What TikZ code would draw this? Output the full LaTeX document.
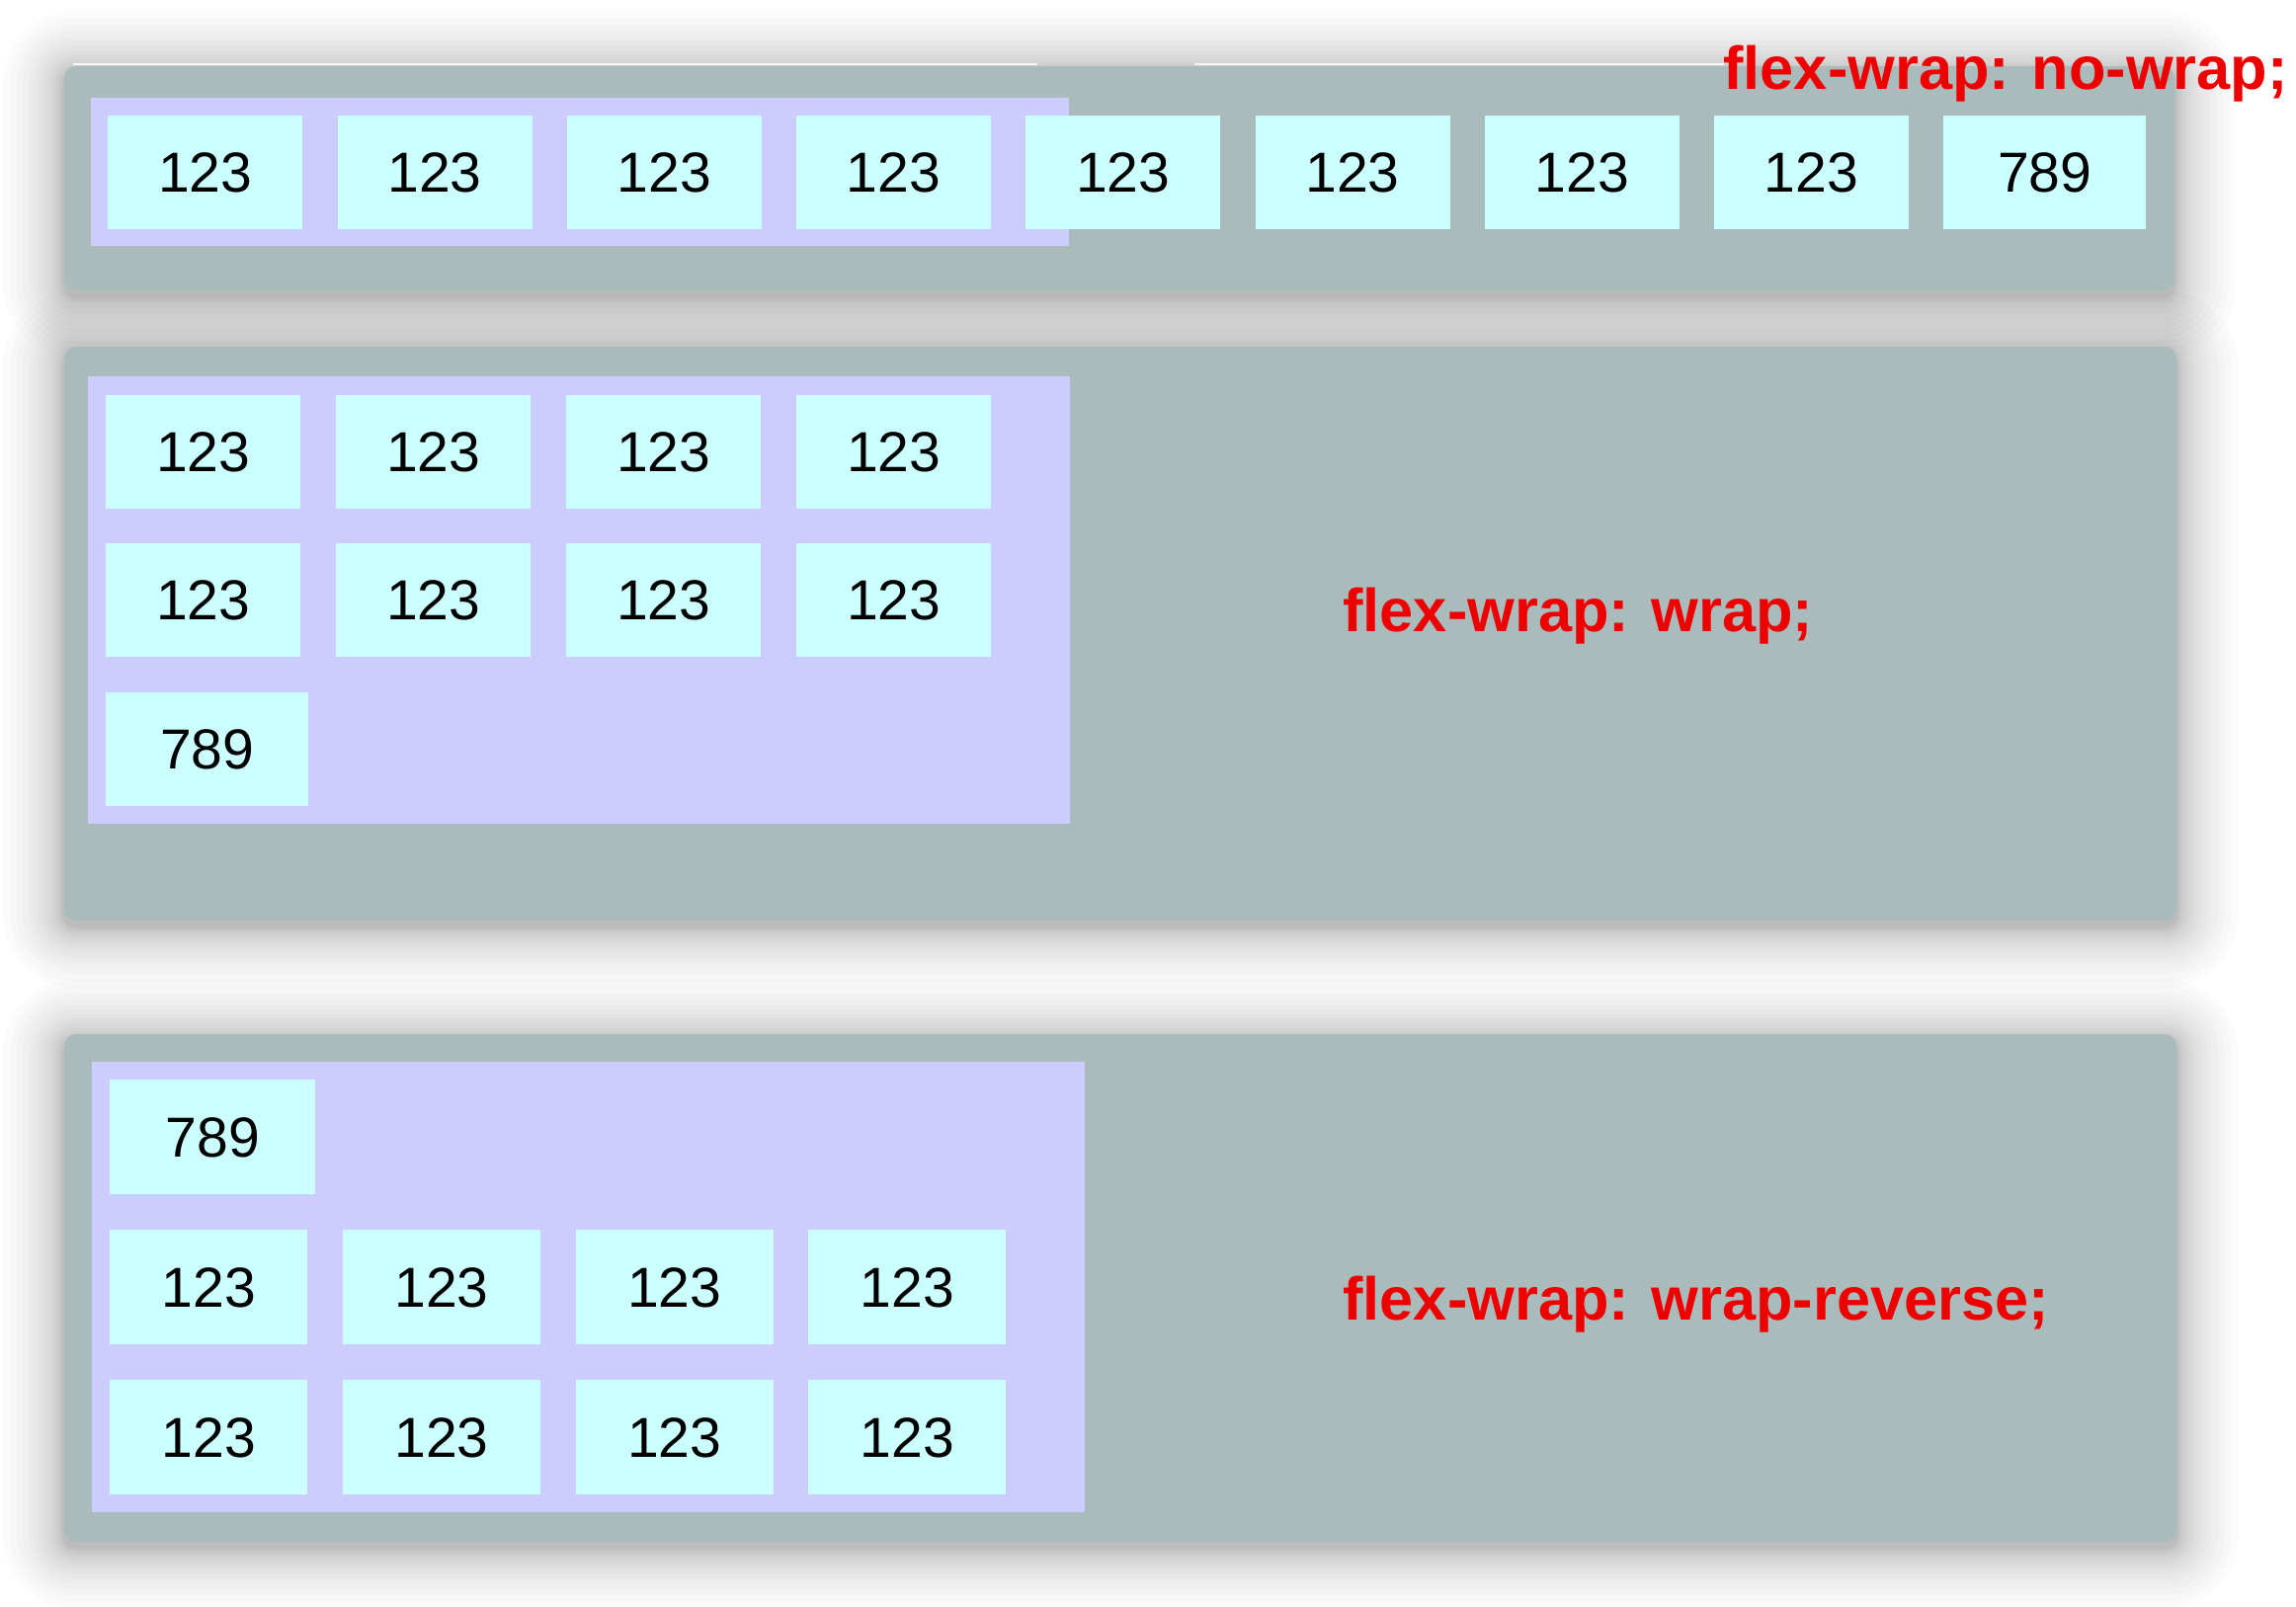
\documentclass[tikz,border=0pt]{standalone}
\usepackage{fontspec}
\setmainfont{Liberation Sans}
\usetikzlibrary{positioning}
\definecolor{panelgray}{HTML}{AABBBB}
\definecolor{boxlilac}{HTML}{CCCCFF}
\definecolor{itemcyan}{HTML}{CCFFFF}
\definecolor{labelred}{HTML}{EE0000}

\begin{document}
\begin{tikzpicture}[x=.02cm,y=-.02cm,
  item/.style={fill=itemcyan,anchor=north west,inner sep=0pt,minimum width=3.94cm,
    minimum height=2.3cm,font=\fontsize{32.5pt}{36pt}\selectfont},
  wide/.style={minimum width=4.1cm},
  flexlabel/.style={anchor=base west,inner sep=0pt,text=labelred,
    font=\fontsize{34.9pt}{40pt}\selectfont\bfseries}]
 \useasboundingbox[fill=white] (0,0) rectangle (2324,1626);
 % panels with soft shadow
 \foreach \xa/\ya/\xb/\yb in {65/67/2201/294,65/351/2203/932,65/1047/2203/1561}{
  \foreach \d in {1,2,3,5,7,9,12,15,18,22,26,31,36,42,48,55,62}{
   \fill[black,opacity=.016,rounded corners={.24cm+\d*.02cm}]
     (\xa-\d,\ya-\d+6) rectangle (\xb+\d,\yb+\d+6);
  }
  \fill[panelgray,rounded corners=.24cm] (\xa,\ya) rectangle (\xb,\yb);
 }
 \fill[white!94!gray] (74,64) rectangle (1050,66);
 \fill[white!94!gray] (1209,64) rectangle (1745,66);
 \fill[boxlilac] (92,99) rectangle (1082,249);
 \fill[boxlilac] (89,381) rectangle (1083,834);
 \fill[boxlilac] (93,1075) rectangle (1098,1531);
 % no-wrap
 \foreach \i in {0,...,7}{
  \node[item] (n\i) at (109+232.25*\i,117) {123};
 }
 \node[item,wide] (n8) at (1967,117) {789};
 % wrap
 \foreach \r/\y in {1/400,2/550}{
  \foreach \i in {0,...,3}{
   \node[item] (w\r\i) at (107+233*\i,\y) {123};
  }
 }
 \node[item,wide] (w30) at (107,701) {789};
 % wrap-reverse
 \node[item,minimum width=4.16cm,minimum height=2.32cm] (r10) at (111,1093) {789};
 \foreach \r/\y in {2/1245,3/1397}{
  \foreach \i in {0,...,3}{
   \node[item,minimum width=4cm,minimum height=2.32cm] (r\r\i) at (111+235.7*\i,\y) {123};
  }
 }
 \node[flexlabel] (nowrap) at (1744,90) {flex-wrap: no-wrap;};
 \node[flexlabel] (wrap) at (1359,639) {flex-wrap: wrap;};
 \node[flexlabel] (wraprev) at (1359,1336) {flex-wrap: wrap-reverse;};
\end{tikzpicture}
\end{document}
